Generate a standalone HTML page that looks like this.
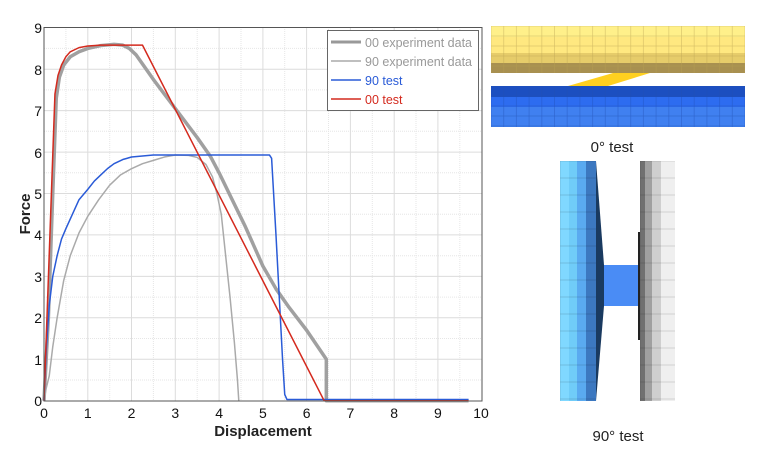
<!DOCTYPE html>
<html><head><meta charset="utf-8"><style>
html,body{margin:0;padding:0;background:#fff;width:761px;height:461px;overflow:hidden}
svg{display:block}
text{font-family:"Liberation Sans",sans-serif}
</style></head><body>
<svg width="761" height="461" viewBox="0 0 761 461">
<defs>
<pattern id="gy" width="12.7" height="10" patternUnits="userSpaceOnUse" x="491" y="26"><rect width="12.7" height="10" fill="none" stroke="#b8a050" stroke-width="0.6" opacity="0.6"/></pattern>
<pattern id="gb" width="12.7" height="10" patternUnits="userSpaceOnUse" x="491" y="86"><rect width="12.7" height="10" fill="none" stroke="#1f4fb0" stroke-width="0.6" opacity="0.6"/></pattern>
<pattern id="gv" width="40" height="17" patternUnits="userSpaceOnUse" x="560" y="161"><rect width="40" height="17" fill="none" stroke="#000" stroke-width="0.5" opacity="0.25"/></pattern>
</defs>
<g stroke="#e6e6e6" stroke-width="1" stroke-dasharray="1,1">
<line x1="65.9" y1="27" x2="65.9" y2="401"/><line x1="109.7" y1="27" x2="109.7" y2="401"/><line x1="153.4" y1="27" x2="153.4" y2="401"/><line x1="197.2" y1="27" x2="197.2" y2="401"/><line x1="241" y1="27" x2="241" y2="401"/><line x1="284.7" y1="27" x2="284.7" y2="401"/><line x1="328.5" y1="27" x2="328.5" y2="401"/><line x1="372.3" y1="27" x2="372.3" y2="401"/><line x1="416" y1="27" x2="416" y2="401"/><line x1="459.8" y1="27" x2="459.8" y2="401"/>
<line x1="44" y1="380" x2="482" y2="380"/><line x1="44" y1="338.5" x2="482" y2="338.5"/><line x1="44" y1="297.1" x2="482" y2="297.1"/><line x1="44" y1="255.7" x2="482" y2="255.7"/><line x1="44" y1="214.2" x2="482" y2="214.2"/><line x1="44" y1="172.8" x2="482" y2="172.8"/><line x1="44" y1="131.3" x2="482" y2="131.3"/><line x1="44" y1="89.9" x2="482" y2="89.9"/><line x1="44" y1="48.4" x2="482" y2="48.4"/>
</g>
<g stroke="#dcdcdc" stroke-width="1">
<line x1="87.8" y1="27" x2="87.8" y2="401"/><line x1="131.5" y1="27" x2="131.5" y2="401"/><line x1="175.3" y1="27" x2="175.3" y2="401"/><line x1="219.1" y1="27" x2="219.1" y2="401"/><line x1="262.9" y1="27" x2="262.9" y2="401"/><line x1="306.6" y1="27" x2="306.6" y2="401"/><line x1="350.4" y1="27" x2="350.4" y2="401"/><line x1="394.2" y1="27" x2="394.2" y2="401"/><line x1="437.9" y1="27" x2="437.9" y2="401"/>
<line x1="44" y1="359.3" x2="482" y2="359.3"/><line x1="44" y1="317.8" x2="482" y2="317.8"/><line x1="44" y1="276.4" x2="482" y2="276.4"/><line x1="44" y1="234.9" x2="482" y2="234.9"/><line x1="44" y1="193.5" x2="482" y2="193.5"/><line x1="44" y1="152.1" x2="482" y2="152.1"/><line x1="44" y1="110.6" x2="482" y2="110.6"/><line x1="44" y1="69.2" x2="482" y2="69.2"/>
</g>
<g transform="translate(44,400.7) scale(43.77,-41.44)" fill="none" stroke-linejoin="round">
<polyline vector-effect="non-scaling-stroke" stroke="#a0a0a0" stroke-width="3.5" points="0,0 0.1,2 0.2,5 0.28,7.3 0.35,7.8 0.45,8.1 0.6,8.3 0.8,8.42 1,8.5 1.3,8.57 1.6,8.6 1.8,8.58 1.95,8.5 2.1,8.35 2.5,7.75 3,7.05 3.5,6.35 3.8,5.9 4,5.5 4.3,4.85 4.6,4.2 5,3.25 5.3,2.7 5.6,2.25 6,1.7 6.45,1 6.45,0 9.7,0"/>
<polyline vector-effect="non-scaling-stroke" stroke="#aaaaaa" stroke-width="1.5" points="0,0 0.05,0.3 0.12,0.6 0.2,1.3 0.3,2 0.45,2.9 0.6,3.5 0.8,4.05 1,4.45 1.25,4.85 1.5,5.2 1.75,5.45 2,5.6 2.25,5.72 2.5,5.8 2.75,5.88 3,5.93 3.3,5.92 3.5,5.87 3.7,5.7 3.85,5.4 3.95,5.0 4.05,4.5 4.15,3.5 4.25,2.5 4.35,1.4 4.42,0.5 4.45,0"/>
<polyline vector-effect="non-scaling-stroke" stroke="#2a5bd7" stroke-width="1.5" points="0,0 0.05,1.2 0.12,2.3 0.2,3.0 0.3,3.5 0.4,3.9 0.5,4.15 0.65,4.5 0.8,4.85 1,5.1 1.15,5.3 1.3,5.45 1.45,5.6 1.6,5.72 1.8,5.82 2,5.88 2.5,5.93 5.15,5.93 5.2,5.85 5.3,4 5.45,1 5.5,0.15 5.55,0.03 9.7,0.03"/>
<polyline vector-effect="non-scaling-stroke" stroke="#d42a1e" stroke-width="1.5" points="0,0 0.25,7.4 0.32,7.85 0.4,8.1 0.5,8.3 0.6,8.42 0.8,8.52 1,8.56 1.3,8.58 2.25,8.58 6.4,0 9.7,0"/>
</g>
<rect x="44" y="27.5" width="438" height="373.5" fill="none" stroke="#555" stroke-width="1"/>
<g font-size="14" fill="#111" text-anchor="middle">
<text x="44" y="418">0</text><text x="87.8" y="418">1</text><text x="131.5" y="418">2</text><text x="175.3" y="418">3</text><text x="219.1" y="418">4</text><text x="262.9" y="418">5</text><text x="306.6" y="418">6</text><text x="350.4" y="418">7</text><text x="394.2" y="418">8</text><text x="437.9" y="418">9</text><text x="481" y="418">10</text>
</g>
<g font-size="14" fill="#111" text-anchor="end">
<text x="42" y="406">0</text><text x="42" y="365">1</text><text x="42" y="323">2</text><text x="42" y="282">3</text><text x="42" y="240">4</text><text x="42" y="199">5</text><text x="42" y="158">6</text><text x="42" y="116">7</text><text x="42" y="75">8</text><text x="42" y="33">9</text>
</g>
<text x="263" y="436" font-size="15" font-weight="bold" text-anchor="middle" fill="#222">Displacement</text>
<text transform="translate(30,214) rotate(-90)" font-size="15" font-weight="bold" text-anchor="middle" fill="#222">Force</text>
<rect x="327.5" y="30.5" width="151" height="80" fill="#fff" stroke="#666" stroke-width="1"/>
<line x1="331" y1="42" x2="361" y2="42" stroke="#999" stroke-width="3"/>
<line x1="331" y1="61" x2="361" y2="61" stroke="#aaa" stroke-width="1.5"/>
<line x1="331" y1="80" x2="361" y2="80" stroke="#2a5bd7" stroke-width="1.5"/>
<line x1="331" y1="99" x2="361" y2="99" stroke="#d42a1e" stroke-width="1.5"/>
<g font-size="12.5">
<text x="365" y="47" fill="#999">00 experiment data</text>
<text x="365" y="66" fill="#999">90 experiment data</text>
<text x="365" y="85" fill="#2a5bd7">90 test</text>
<text x="365" y="104" fill="#d42a1e">00 test</text>
</g>
<rect x="491" y="26" width="254" height="11" fill="#fff08a"/>
<rect x="491" y="37" width="254" height="16" fill="#ffe880"/>
<rect x="491" y="53" width="254" height="10" fill="#e6cc6a"/>
<rect x="491" y="63" width="254" height="10" fill="#a89050"/>
<rect x="491" y="26" width="254" height="47" fill="url(#gy)"/>
<polygon points="613,73 650,73 608,86 568,86" fill="#ffd020"/>
<rect x="491" y="86" width="254" height="11" fill="#1c4fc0"/>
<rect x="491" y="97" width="254" height="10" fill="#2d6cf0"/>
<rect x="491" y="107" width="254" height="20" fill="#4080f0"/>
<rect x="491" y="86" width="254" height="41" fill="url(#gb)"/>
<text x="612" y="152" font-size="15" text-anchor="middle" fill="#222">0° test</text>
<rect x="560" y="161" width="9" height="240" fill="#80d8ff"/>
<rect x="569" y="161" width="8" height="240" fill="#70ccf8"/>
<rect x="577" y="161" width="9" height="240" fill="#5aaaf0"/>
<rect x="586" y="161" width="10" height="240" fill="#3c78c0"/>
<rect x="560" y="161" width="36" height="240" fill="url(#gv)"/>
<polygon points="596,161 596,401 604,306 604,265" fill="#1a3a60"/>
<rect x="604" y="265" width="34" height="41" fill="#4a8cf5"/>
<rect x="638" y="232" width="2" height="108" fill="#222"/>
<rect x="640" y="161" width="5" height="240" fill="#707070"/>
<rect x="645" y="161" width="7" height="240" fill="#a0a0a0"/>
<rect x="652" y="161" width="9" height="240" fill="#cfcfcf"/>
<rect x="661" y="161" width="14" height="240" fill="#efefef"/>
<rect x="640" y="161" width="35" height="240" fill="url(#gv)"/>
<text x="618" y="441" font-size="15" text-anchor="middle" fill="#222">90° test</text>
</svg>
</body></html>
